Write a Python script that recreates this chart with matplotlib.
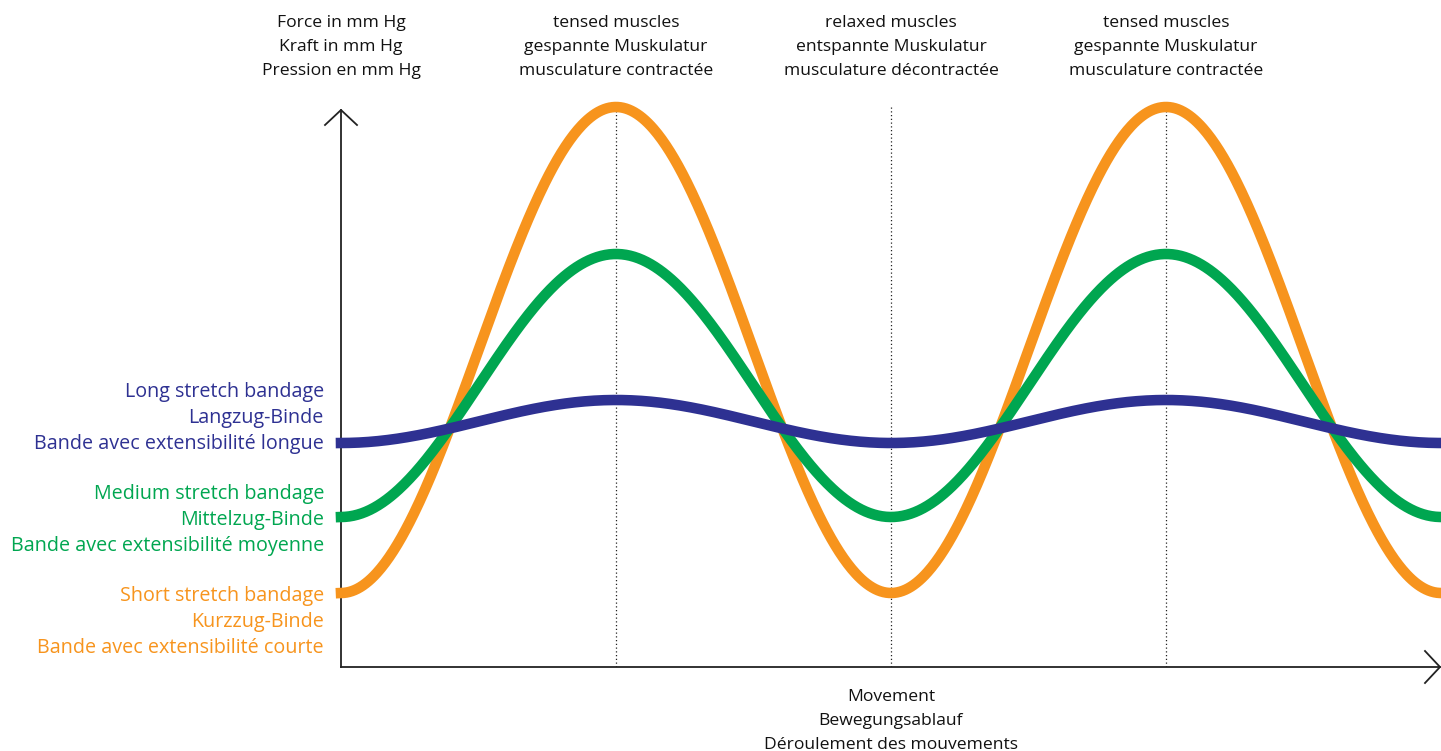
import numpy as np
import matplotlib
matplotlib.use("Agg")
import matplotlib.pyplot as plt

# ---- data (schematic pressure levels, arbitrary units) ----
phases = [0, 1, 2, 3, 4]                # half-cycle markers along the movement axis
orange_low, orange_high = 74, 560        # short stretch bandage
green_low, green_high = 150, 413         # medium stretch bandage
blue_low, blue_high = 224, 267           # long stretch bandage
marker_phases = [1, 2, 3]                # dotted reference lines

top_labels = [
    "Force in mm Hg\nKraft in mm Hg\nPression en mm Hg",
    "tensed muscles\ngespannte Muskulatur\nmusculature contractée",
    "relaxed muscles\nentspannte Muskulatur\nmusculature décontractée",
    "tensed muscles\ngespannte Muskulatur\nmusculature contractée",
]
top_label_phases = [0, 1, 2, 3]
series_labels = [
    "Long stretch bandage\nLangzug-Binde\nBande avec extensibilité longue",
    "Medium stretch bandage\nMittelzug-Binde\nBande avec extensibilité moyenne",
    "Short stretch bandage\nKurzzug-Binde\nBande avec extensibilité courte",
]
x_label = "Movement\nBewegungsablauf\nDéroulement des mouvements"

c_orange = "#F7941D"
c_green = "#00A650"
c_blue = "#2E3192"
c_axis = "#222222"

plt.rcParams['font.family'] = ['Open Sans', 'DejaVu Sans']

W, H = 1441, 751
fig = plt.figure(figsize=(W / 100, H / 100), dpi=100)
ax_l, ax_b, ax_r, ax_t = 341, 667, 1441, 100
ax = fig.add_axes([ax_l / W, (H - ax_b) / H, (ax_r - ax_l) / W, (ax_b - ax_t) / H])
ax.set_xlim(0, 4)
ax.set_ylim(0, ax_b - ax_t)
ax.axis("off")

x = np.linspace(phases[0], phases[-1], 800)

def wave(low, high):
    # smooth cycle: low at even phases, high at odd phases
    return low + (high - low) * (1 - np.cos(np.pi * x)) / 2

for p in marker_phases:
    ax.plot([p, p], [0, orange_high], ls=(0, (1, 2)), color=c_axis, lw=0.9, zorder=1)

lw = 7.6
ax.plot(x, wave(orange_low, orange_high), color=c_orange, lw=lw, zorder=3, clip_on=False)
ax.plot(x, wave(green_low, green_high), color=c_green, lw=lw, zorder=4, clip_on=False)
ax.plot(x, wave(blue_low, blue_high), color=c_blue, lw=lw, zorder=5, clip_on=False)

# axes with open arrowheads
sx = 1 / 275  # data units per pixel along x
ax_top = 557
x_end = 4 - 1 * sx
ax.plot([0, 0], [0, ax_top], color=c_axis, lw=1.3, clip_on=False, zorder=2)
ax.plot([0, x_end], [0, 0], color=c_axis, lw=1.3, clip_on=False, zorder=2)
ax.plot([-16 * sx, 0, 16 * sx], [ax_top - 15, ax_top, ax_top - 15], color=c_axis, lw=1.3, clip_on=False)
ax.plot([x_end - 15 * sx, x_end, x_end - 15 * sx], [16, 0, -16], color=c_axis, lw=1.3, clip_on=False)

fs = 12.6
for p, t in zip(top_label_phases, top_labels):
    ax.text(p, ax_b - 15, t, ha="center", va="top", fontsize=fs, color="#111111",
            linespacing=1.66, clip_on=False)

series_colors = [c_blue, c_green, c_orange]
series_tops = [ax_b - 382, ax_b - 484, ax_b - 586]
for t, c, yt in zip(series_labels, series_colors, series_tops):
    ax.text(-17 * sx, yt, t, ha="right", va="top", fontsize=14.2, color=c,
            linespacing=1.41, clip_on=False)

ax.text(2, -22, x_label, ha="center", va="top", fontsize=fs, color="#111111",
        linespacing=1.66, clip_on=False)

fig.savefig("out.png", dpi=100, facecolor="white")
